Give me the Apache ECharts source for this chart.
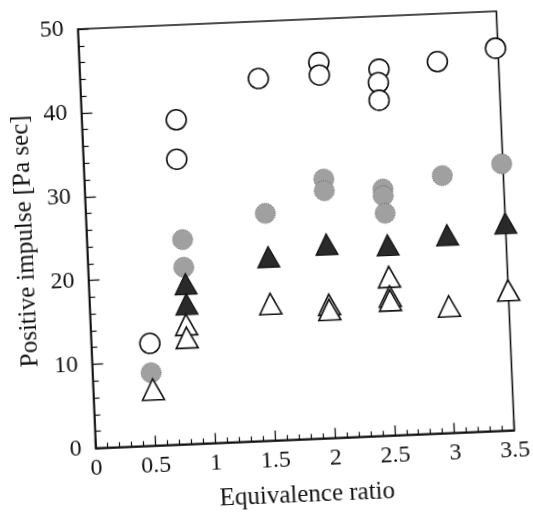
<!DOCTYPE html>
<html>
<head>
<meta charset="utf-8">
<script src="https://cdn.jsdelivr.net/npm/echarts@6/dist/echarts.min.js"></script>
<style>
  html, body { margin: 0; padding: 0; background: #fff; overflow: hidden; }
  #chart {
    width: 533px; height: 529px;
    transform-origin: 296px 229.75px;
    transform: rotate(-2.45deg);
  }
</style>
</head>
<body>
<div id="chart"></div>
<script>
// Positive impulse vs. equivalence ratio, four measurement groups
const xTicks = [0, 0.5, 1, 1.5, 2, 2.5, 3, 3.5];
const yTicks = [0, 10, 20, 30, 40, 50];

const openCircleX = [0.49, 0.79, 0.78, 1.49, 2.0, 2.0, 2.5, 2.49, 2.49, 2.99, 3.48];
const openCircleY = [12.2, 38.7, 34.0, 43.2, 44.8, 43.3, 43.7, 42.1, 40.0, 44.3, 45.6];

const grayCircleX = [0.49, 0.8, 0.8, 1.5, 2.0, 2.0, 2.49, 2.49, 2.5, 2.99, 3.49];
const grayCircleY = [8.7, 24.4, 21.1, 27.1, 30.9, 29.5, 29.4, 28.6, 26.5, 30.7, 31.8];

const filledTriX = [0.81, 0.81, 1.51, 2.0, 2.51, 3.01, 3.5];
const filledTriY = [19.1, 16.7, 21.9, 23.1, 22.7, 23.6, 24.7];

const openTriX = [0.5, 0.8, 0.8, 1.51, 2.0, 2.0, 2.51, 2.51, 2.51, 3.0, 3.5];
const openTriY = [6.7, 14.25, 12.7, 16.3, 15.9, 15.3, 18.9, 16.6, 16.1, 15.1, 16.7];

const pairs = (xs, ys) => xs.map((x, i) => [x, ys[i]]);

const FONT = '"Liberation Serif", "Times New Roman", serif';
const INK = '#111';

const chart = echarts.init(document.getElementById('chart'), null, { renderer: 'canvas' });

chart.setOption({
  backgroundColor: '#fff',
  animation: false,
  grid: {
    left: 86.5, top: 20, width: 419, height: 419.4,
    show: true, borderColor: INK, borderWidth: 1.6, backgroundColor: 'transparent'
  },
  xAxis: {
    type: 'value',
    min: xTicks[0], max: xTicks[xTicks.length - 1], interval: 0.5,
    name: 'Equivalence ratio',
    nameLocation: 'middle', nameGap: 44,
    nameTextStyle: { fontFamily: FONT, fontSize: 25, color: INK },
    axisLine: { show: true, lineStyle: { color: INK, width: 1.6 } },
    axisTick: { show: true, inside: true, length: 10, lineStyle: { color: INK, width: 1.3 } },
    minorTick: { show: true, splitNumber: 5, length: 5, lineStyle: { color: INK, width: 1.2 } },
    splitLine: { show: false },
    axisLabel: {
      fontFamily: FONT, fontSize: 24, color: INK, margin: 8,
      formatter: v => String(v)
    }
  },
  yAxis: {
    type: 'value',
    min: yTicks[0], max: yTicks[yTicks.length - 1], interval: 10,
    name: 'Positive impulse [Pa sec]',
    nameLocation: 'middle', nameGap: 38, nameRotate: 90,
    nameTextStyle: { fontFamily: FONT, fontSize: 25, color: INK },
    axisLine: { show: true, lineStyle: { color: INK, width: 1.6 } },
    axisTick: { show: true, inside: true, length: 11, lineStyle: { color: INK, width: 1.3 } },
    minorTick: { show: true, splitNumber: 5, length: 6, lineStyle: { color: INK, width: 1.2 } },
    splitLine: { show: false },
    axisLabel: { fontFamily: FONT, fontSize: 24, color: INK, margin: 14 }
  },
  series: [
    {
      name: 'open circle', type: 'scatter', symbol: 'circle', symbolSize: 20,
      data: pairs(openCircleX, openCircleY),
      itemStyle: { color: '#fff', borderColor: INK, borderWidth: 1.6, opacity: 1 }
    },
    {
      name: 'gray circle', type: 'scatter', symbol: 'circle', symbolSize: 20,
      data: pairs(grayCircleX, grayCircleY),
      itemStyle: { color: '#a0a0a0', borderColor: '#666', borderWidth: 1, borderType: 'dotted', opacity: 1 }
    },
    {
      name: 'filled triangle', type: 'scatter', symbol: 'triangle', symbolSize: [22, 21],
      data: pairs(filledTriX, filledTriY),
      itemStyle: { color: '#2a2a2a', borderColor: INK, borderWidth: 1.2, opacity: 1 }
    },
    {
      name: 'open triangle', type: 'scatter', symbol: 'triangle', symbolSize: [22, 21],
      data: pairs(openTriX, openTriY),
      itemStyle: { color: '#fff', borderColor: INK, borderWidth: 1.6, opacity: 1 }
    }
  ]
});
</script>
</body>
</html>
